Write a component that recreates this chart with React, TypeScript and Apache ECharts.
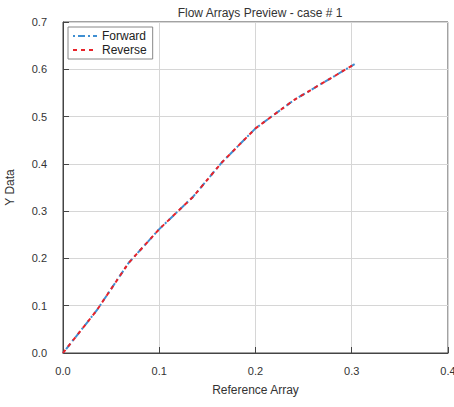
import React, { useEffect, useRef } from "react";
import * as echarts from "echarts";

const xValues = [0, 0.035, 0.068, 0.1, 0.135, 0.165, 0.2, 0.24, 0.303];
const forwardY = [0, 0.09, 0.19, 0.262, 0.33, 0.403, 0.475, 0.535, 0.611];
const reverseY = [0, 0.09, 0.19, 0.262, 0.33, 0.403, 0.475, 0.535, 0.611];
const seriesNames = ["Forward", "Reverse"];

export default function App() {
  const ref = useRef<HTMLDivElement>(null);
  useEffect(() => {
    if (!ref.current) return;
    const chart = echarts.init(ref.current, undefined, { renderer: "svg" });
    const font = "Liberation Sans, Arial, sans-serif";
    chart.setOption({
      animation: false,
      backgroundColor: "#ffffff",
      textStyle: { fontFamily: font },
      title: {
        text: "Flow Arrays Preview - case # 1",
        left: 255,
        textAlign: "center",
        top: 2,
        textStyle: { fontSize: 12, fontWeight: "normal", color: "#333", fontFamily: font },
      },
      legend: {
        left: 68,
        top: 27,
        orient: "vertical",
        data: seriesNames,
        borderColor: "#888",
        borderWidth: 1,
        padding: [3, 6, 3, 4],
        itemGap: 2,
        itemWidth: 24,
        itemHeight: 10,
        itemStyle: { opacity: 0 },
        textStyle: { fontSize: 12, color: "#222", fontFamily: font },
        backgroundColor: "#fff",
      },
      grid: {
        left: 63,
        right: 6,
        top: 22,
        bottom: 54,
        show: true,
        borderColor: "#444",
        borderWidth: 1,
        backgroundColor: "transparent",
        containLabel: false,
        outerBoundsMode: "none",
      },
      xAxis: {
        type: "value",
        min: 0,
        max: 0.4,
        interval: 0.1,
        name: "Reference Array",
        nameLocation: "middle",
        nameGap: 31,
        nameTextStyle: { fontSize: 12, color: "#333", fontFamily: font },
        axisLine: { show: true, lineStyle: { color: "#444", width: 1 } },
        axisTick: { show: true, inside: true, length: 6, lineStyle: { color: "#444" } },
        axisLabel: {
          fontSize: 11,
          color: "#333",
          margin: 12,
          formatter: (v: number) => v.toFixed(1),
        },
        splitLine: { show: true, lineStyle: { color: "#d6d6d6", width: 1 } },
      },
      yAxis: {
        type: "value",
        min: 0,
        max: 0.7,
        interval: 0.1,
        name: "Y Data",
        nameLocation: "middle",
        nameGap: 47,
        nameTextStyle: { fontSize: 12, color: "#333", fontFamily: font },
        axisLine: { show: true, lineStyle: { color: "#444", width: 1 } },
        axisTick: { show: true, inside: true, length: 6, lineStyle: { color: "#444" } },
        axisLabel: {
          fontSize: 11,
          color: "#333",
          margin: 16,
          formatter: (v: number) => v.toFixed(1),
        },
        splitLine: { show: true, lineStyle: { color: "#d6d6d6", width: 1 } },
      },
      series: [
        {
          name: seriesNames[0],
          type: "line",
          data: xValues.map((x, i) => [x, forwardY[i]]),
          symbol: "none",
          lineStyle: { color: "#3f8fd2", width: 2, type: [2, 3, 7, 3] },
          itemStyle: { color: "#3f8fd2" },
        },
        {
          name: seriesNames[1],
          type: "line",
          data: xValues.map((x, i) => [x, reverseY[i]]),
          symbol: "none",
          lineStyle: { color: "#e8232a", width: 2, type: [4, 4] },
          itemStyle: { color: "#e8232a" },
        },
      ],
    });
    return () => chart.dispose();
  }, []);
  return (
    <div
      ref={ref}
      style={{ position: "absolute", left: 0, top: 0, width: 454, height: 407 }}
    />
  );
}
